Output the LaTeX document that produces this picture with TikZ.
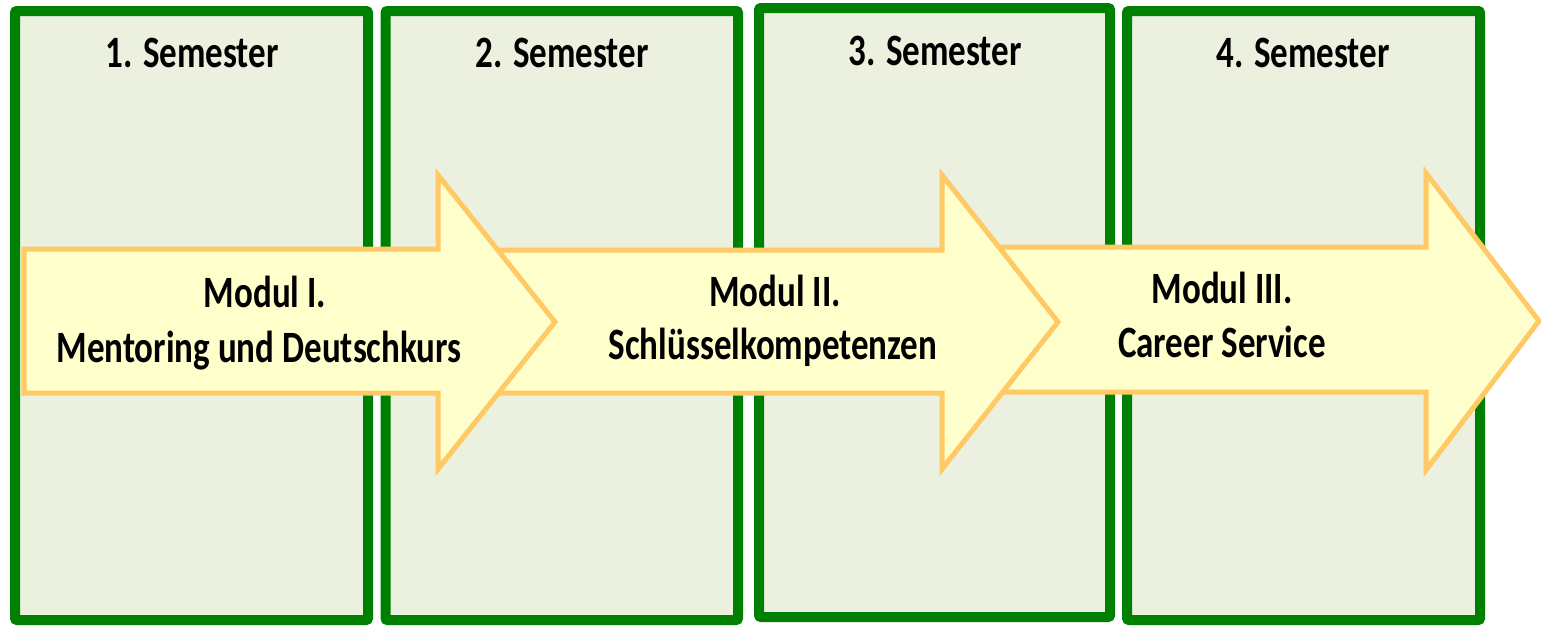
\documentclass[tikz,border=0pt]{standalone}
\usepackage{fontspec}
\setmainfont{Carlito}
\usepackage{graphicx}
\definecolor{boxgreen}{HTML}{008000}
\definecolor{boxfill}{HTML}{EBF1DE}
\definecolor{arrfill}{HTML}{FFFFCC}
\definecolor{arrline}{HTML}{FFC966}
\newcommand{\tallt}[1]{\scalebox{1}[1.28]{#1}}
\tikzset{
  semesterbox/.style={draw=boxgreen, fill=boxfill, line width=10pt, rounded corners=2pt},
  modarrow/.style={draw=arrline, fill=arrfill, line width=5pt, line join=miter, miter limit=10},
  lbl/.style={inner sep=0pt, anchor=base, font=\fontsize{35}{35}\selectfont\bfseries, text=black}
}
\begin{document}
\begin{tikzpicture}[x=1pt,y=-1pt]
\useasboundingbox (0,0) rectangle (1541,627);
% semester boxes
\draw[semesterbox] (15,11) rectangle (368,620);
\draw[semesterbox] (385.5,11) rectangle (738,620);
\draw[semesterbox] (759,8) rectangle (1110,617);
\draw[semesterbox] (1127,11) rectangle (1480,620);
% arrows (back to front)
\draw[modarrow] (960,247) -- (1426,247) -- (1426,173) -- (1539,321) -- (1426,470) -- (1426,392) -- (960,392) -- cycle;
\draw[modarrow] (460,250) -- (942,250) -- (942,175) -- (1058,322) -- (942,469) -- (942,393) -- (460,393) -- cycle;
\draw[modarrow] (24,249) -- (438,249) -- (438,175) -- (555,322) -- (438,469) -- (438,393) -- (24,393) -- cycle;
% labels
\node[lbl] (s1) at (192,67) {\tallt{1. Semester}};
\node[lbl] (s2) at (562,67) {\tallt{2. Semester}};
\node[lbl] (s3) at (935,65) {\tallt{3. Semester}};
\node[lbl] (s4) at (1303,67) {\tallt{4. Semester}};
\node[lbl] (m1a) at (265,307) {\tallt{Modul I.}};
\node[lbl] (m1b) at (259,362) {\tallt{Mentoring und Deutschkurs}};
\node[lbl] (m2a) at (775,306) {\tallt{Modul II.}};
\node[lbl] (m2b) at (773,359) {\tallt{Schlüsselkompetenzen}};
\node[lbl] (m3a) at (1222,303) {\tallt{Modul III.}};
\node[lbl] (m3b) at (1222,357) {\tallt{Career Service}};
\end{tikzpicture}
\end{document}
